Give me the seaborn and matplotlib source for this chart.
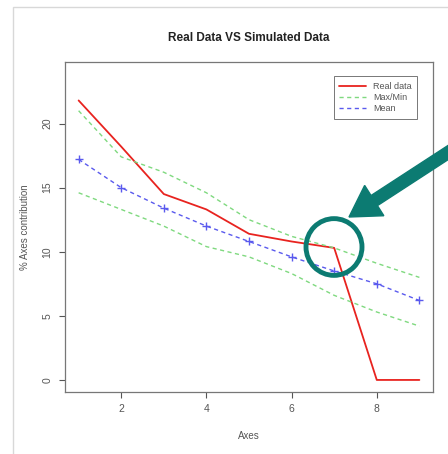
import numpy as np
import pandas as pd
import matplotlib
matplotlib.use("Agg")
import matplotlib.pyplot as plt
import seaborn as sns
from matplotlib.patches import Rectangle, Circle, FancyArrow

# values
axes_idx = [1, 2, 3, 4, 5, 6, 7, 8, 9]
real_data = [21.8, 18.2, 14.5, 13.3, 11.4, 10.8, 10.3, 0.0, 0.0]
sim_max = [21.0, 17.4, 16.2, 14.6, 12.5, 11.2, 10.3, 9.1, 8.0]
sim_min = [14.6, 13.3, 12.0, 10.4, 9.6, 8.3, 6.6, 5.3, 4.2]
sim_mean = [17.2, 15.0, 13.4, 12.0, 10.8, 9.6, 8.5, 7.5, 6.2]

x_ticks = [2, 4, 6, 8]
y_ticks = [0, 5, 10, 15, 20]

df = pd.DataFrame({"axis": axes_idx, "real": real_data, "max": sim_max,
                   "min": sim_min, "mean": sim_mean})

sns.set_theme(style="white")
plt.rcParams["font.family"] = ["Liberation Sans", "DejaVu Sans"]

W, H = 448, 454
fig = plt.figure(figsize=(W / 100, H / 100), dpi=100)
fig.patch.set_facecolor("white")

# light frame around the screenshot
fig.patches.append(Rectangle((13 / W, -0.05), 1.2, (H - 7) / H + 0.05,
                             transform=fig.transFigure, fill=False,
                             edgecolor="#d8d8d8", linewidth=1))

ax = fig.add_axes([65 / W, 1 - 392 / H, (433 - 65) / W, (392 - 62) / H])

red = "#e8231f"
green = "#7fd97f"
blue = "#5a5aee"

sns.lineplot(data=df, x="axis", y="real", ax=ax, color=red, linewidth=1.3,
             label="Real data")
sns.lineplot(data=df, x="axis", y="max", ax=ax, color=green, linewidth=1.0,
             linestyle=(0, (3, 2.5)), label="Max/Min")
sns.lineplot(data=df, x="axis", y="min", ax=ax, color=green, linewidth=1.0,
             linestyle=(0, (3, 2.5)))
sns.lineplot(data=df, x="axis", y="mean", ax=ax, color=blue, linewidth=1.0,
             linestyle=(0, (3, 2.5)), marker="+", markersize=6,
             markeredgewidth=1.0, markeredgecolor=blue, label="Mean")

ax.set_xlim(0.68, 9.32)
ax.set_ylim(-0.94, 24.8)
ax.set_xticks(x_ticks)
ax.set_yticks(y_ticks)
ax.tick_params(axis="both", direction="out", length=4, width=0.8,
               color="#555555", labelcolor="#555555", labelsize=7.5,
               bottom=True, left=True, pad=5)
for lab in ax.get_yticklabels():
    lab.set_rotation(90)
    lab.set_va("center")
for sp in ax.spines.values():
    sp.set_color("#777777")
    sp.set_linewidth(0.9)

ax.set_xlabel("Axes", fontsize=7, color="#555555", labelpad=12)
ax.set_ylabel("% Axes contribution", fontsize=7, color="#555555", labelpad=9)
ax.set_title("Real Data VS Simulated Data", fontsize=8.5, fontweight="bold",
             color="#222222", pad=15)

leg = ax.legend(loc="upper right", fontsize=6.5, frameon=True, fancybox=False,
                borderpad=0.6, handlelength=3, labelspacing=0.25,
                bbox_to_anchor=(0.97, 0.97))
leg.get_frame().set_edgecolor("#555555")
leg.get_frame().set_linewidth(0.7)
for h in leg.legend_handles:
    h.set_marker("")
for t in leg.get_texts():
    t.set_color("#555555")

# teal highlight: circle and arrow (figure pixel coords)
teal = "#0c7b72"
fig.patches.append(Circle((334 / W, 1 - 247 / H), 28 / W,
                          transform=fig.transFigure, fill=False,
                          edgecolor=teal, linewidth=3.5))
fig.patches.append(FancyArrow(452 / W, 1 - 150 / H, -103 / W, -(67) / H,
                              width=12 / H, head_width=36 / H,
                              head_length=30 / W, length_includes_head=True,
                              transform=fig.transFigure, color=teal))

fig.savefig("out.png", dpi=100)
